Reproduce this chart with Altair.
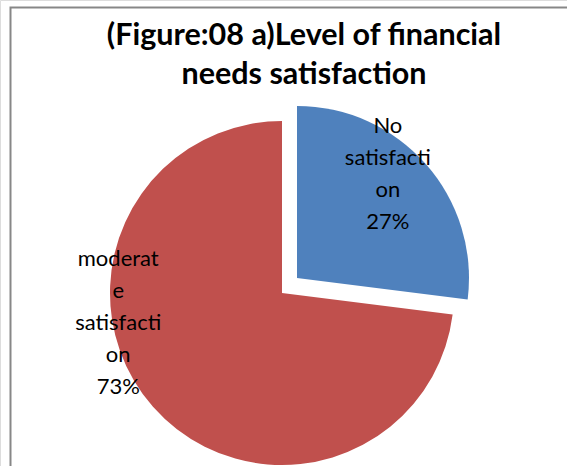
import altair as alt
import pandas as pd

categories = ["No satisfaction", "moderate satisfaction"]
values = [27, 73]
label_lines = [["No", "satisfacti", "on", "27%"],
               ["moderat", "e", "satisfacti", "on", "73%"]]
colors = ["#4F81BD", "#C0504D"]
title_lines = ["(Figure:08 a)Level of financial", "needs satisfaction"]

df = pd.DataFrame({
    "category": categories,
    "value": values,
    "idx": list(range(len(categories))),
    "label": ["\n".join(l) for l in label_lines],
})

base = alt.Chart(df).encode(
    theta=alt.Theta("value:Q", stack=True),
    order=alt.Order("idx:Q"),
)

def slice_layers(cat, cx, cy, lab_r, lab_off):
    sel = alt.datum.category == cat
    arc = base.mark_arc(radius=172, stroke=None).encode(
        x=alt.value(cx), y=alt.value(cy),
        color=alt.Color("category:N", scale=alt.Scale(domain=categories, range=colors), legend=None),
        opacity=alt.condition(sel, alt.value(1), alt.value(0)),
    )
    txt = base.mark_text(radius=lab_r, thetaOffset=lab_off, font="Lato", fontSize=22,
                         lineBreak="\n", lineHeight=32,
                         align="center", baseline="alphabetic").encode(
        x=alt.value(cx), y=alt.value(cy),
        text="label:N",
        color=alt.value("black"),
        opacity=alt.condition(sel, alt.value(1), alt.value(0)),
    )
    return arc, txt

red_arc, red_txt = slice_layers("moderate satisfaction", 282, 293, 166, 0.887)
blue_arc, blue_txt = slice_layers("No satisfaction", 297, 278, 171, -0.288)

tdf = pd.DataFrame({"t": ["\n".join(title_lines)]})
title = alt.Chart(tdf).mark_text(font="Lato", fontSize=30.5, fontWeight="bold",
                                 lineBreak="\n", lineHeight=39, align="center",
                                 baseline="alphabetic", color="black").encode(
    text="t:N", x=alt.value(304), y=alt.value(45))

border = alt.Chart(tdf).mark_rect(fill=None, stroke="#878787", strokeWidth=2).encode(
    x=alt.value(10.5), x2=alt.value(620), y=alt.value(7.5), y2=alt.value(520))

chart = alt.layer(border, red_arc, blue_arc, red_txt, blue_txt, title).properties(
    width=567, height=466, autosize=alt.AutoSizeParams(type="none"), padding=0
).configure_view(stroke=None).configure(background="white")

chart.save("out.html", embed_options={"renderer": "svg", "actions": False})
